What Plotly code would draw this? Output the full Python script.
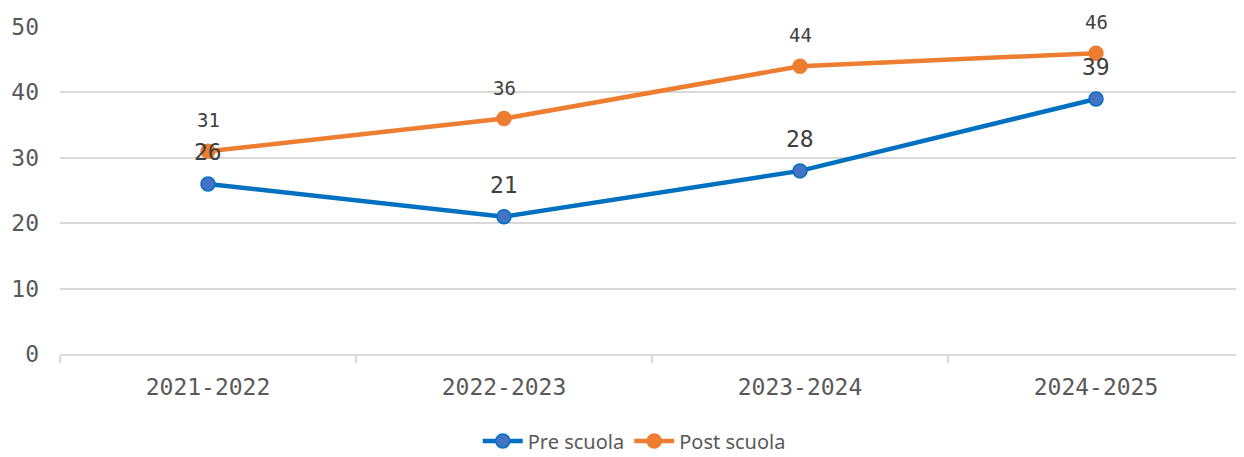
import plotly.graph_objects as go

anni = ["2021-2022", "2022-2023", "2023-2024", "2024-2025"]
pre_scuola = [26, 21, 28, 39]
post_scuola = [31, 36, 44, 46]

BLU = "#0070C0"
BLU_MARK = "#4472C4"
ARANCIO = "#ED7D31"
MONO = "DejaVu Sans Mono"

fig = go.Figure()
fig.add_trace(go.Scatter(
    x=anni, y=pre_scuola, name="Pre scuola", mode="lines+markers",
    line=dict(color=BLU, width=4.5),
    marker=dict(size=14, color=BLU_MARK, line=dict(color=BLU, width=1.5)),
))
fig.add_trace(go.Scatter(
    x=anni, y=post_scuola, name="Post scuola", mode="lines+markers",
    line=dict(color=ARANCIO, width=4.5),
    marker=dict(size=14, color=ARANCIO, line=dict(color=ARANCIO, width=1.5)),
))

# etichette dati sopra i punti
for x, y in zip(anni, pre_scuola):
    fig.add_annotation(x=x, y=y, text=str(y), showarrow=False, yshift=32,
                       font=dict(family=MONO, size=23, color="#404040"))
for x, y in zip(anni, post_scuola):
    fig.add_annotation(x=x, y=y, text=str(y), showarrow=False, yshift=31,
                       font=dict(family=MONO, size=19, color="#404040"))

# la pagina ha 8px di margine: figura 1236x449
fig.update_layout(
    width=1236, height=449,
    margin=dict(l=52, r=0, t=19, b=103, autoexpand=False),
    plot_bgcolor="white", paper_bgcolor="white",
    showlegend=True,
    legend=dict(orientation="h", x=0.485, xanchor="center", y=-0.266, yanchor="middle",
                font=dict(family="Noto Sans", size=20, color="#595959"),
                itemwidth=40, tracegroupgap=0),
)
fig.update_xaxes(
    range=[-0.5, 3.5], showgrid=False, showline=True, linecolor="#D9D9D9", linewidth=1.5,
    ticks="outside", tickson="boundaries", ticklen=7, tickcolor="#D9D9D9", tickwidth=1.5,
    ticklabelstandoff=12,
    tickfont=dict(family=MONO, size=23, color="#595959"), automargin=False,
)
fig.update_yaxes(
    range=[0, 50], dtick=10, showgrid=True, gridcolor="#D9D9D9", gridwidth=1.5,
    zeroline=False, showline=False, ticks="", ticklabelstandoff=20,
    tickfont=dict(family=MONO, size=23, color="#595959"), automargin=False,
)

fig.write_html("out.html")
